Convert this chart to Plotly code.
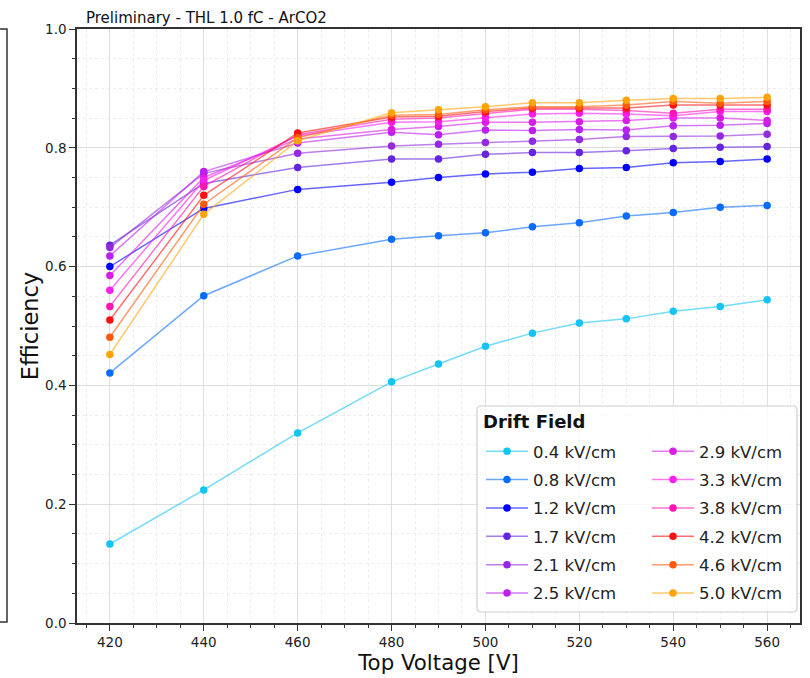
import plotly.graph_objects as go

# ---------------- data ----------------
top_voltage = [420, 440, 460, 480, 490, 500, 510, 520, 530, 540, 550, 560]

drift_labels = ["0.4 kV/cm", "0.8 kV/cm", "1.2 kV/cm", "1.7 kV/cm", "2.1 kV/cm", "2.5 kV/cm",
                "2.9 kV/cm", "3.3 kV/cm", "3.8 kV/cm", "4.2 kV/cm", "4.6 kV/cm", "5.0 kV/cm"]

eff_04 = [0.133, 0.224, 0.320, 0.406, 0.436, 0.466, 0.488, 0.505, 0.512, 0.525, 0.533, 0.544]
eff_08 = [0.421, 0.551, 0.618, 0.646, 0.652, 0.657, 0.667, 0.674, 0.685, 0.691, 0.700, 0.703]
eff_12 = [0.600, 0.698, 0.730, 0.742, 0.750, 0.756, 0.759, 0.765, 0.767, 0.775, 0.777, 0.781]
eff_17 = [0.636, 0.740, 0.767, 0.781, 0.781, 0.789, 0.792, 0.792, 0.795, 0.799, 0.801, 0.802]
eff_21 = [0.632, 0.757, 0.791, 0.803, 0.806, 0.809, 0.811, 0.814, 0.819, 0.819, 0.820, 0.823]
eff_25 = [0.618, 0.760, 0.808, 0.826, 0.822, 0.830, 0.829, 0.831, 0.830, 0.837, 0.838, 0.841]
eff_29 = [0.585, 0.750, 0.815, 0.831, 0.836, 0.843, 0.843, 0.844, 0.846, 0.850, 0.850, 0.846]
eff_33 = [0.560, 0.745, 0.820, 0.843, 0.844, 0.851, 0.857, 0.858, 0.857, 0.854, 0.861, 0.861]
eff_38 = [0.533, 0.735, 0.822, 0.848, 0.850, 0.858, 0.865, 0.865, 0.863, 0.858, 0.865, 0.865]
eff_42 = [0.510, 0.720, 0.825, 0.852, 0.853, 0.861, 0.867, 0.867, 0.867, 0.872, 0.872, 0.872]
eff_46 = [0.481, 0.705, 0.817, 0.855, 0.856, 0.864, 0.869, 0.869, 0.872, 0.878, 0.875, 0.878]
eff_50 = [0.452, 0.688, 0.812, 0.859, 0.864, 0.869, 0.876, 0.876, 0.880, 0.883, 0.883, 0.885]

all_eff = [eff_04, eff_08, eff_12, eff_17, eff_21, eff_25,
           eff_29, eff_33, eff_38, eff_42, eff_46, eff_50]

colors = ["#14c4f5", "#0a6cff", "#0000ff", "#6424e0", "#932ae0", "#bb1ff2",
          "#d91ce6", "#fa1ef0", "#ff14b4", "#ff1010", "#ff5a0a", "#ffa30a"]


def rgba(hexc, a):
    h = hexc.lstrip("#")
    r, g, b = int(h[0:2], 16), int(h[2:4], 16), int(h[4:6], 16)
    return f"rgba({r},{g},{b},{a})"


FONT = "DejaVu Sans"
W, H = 810, 678
ML, MR, MT, MB = 77, 10, 29, 55
PW, PH = W - ML - MR, H - MT - MB


def px(xp):
    return (xp - ML) / PW


def py(yp):
    return (H - MB - yp) / PH


fig = go.Figure()
for i, (lab, ys, c) in enumerate(zip(drift_labels, all_eff, colors)):
    fig.add_trace(go.Scatter(
        x=top_voltage, y=ys, name=lab, mode="lines+markers",
        line=dict(color=rgba(c, 0.6), width=1.5),
        marker=dict(color=c, size=7.5),
        legend="legend" if i < 6 else "legend2",
        legendgroup=lab,
    ))

axis_common = dict(
    showline=True, linecolor="#333333", linewidth=1.5, mirror=True,
    ticks="outside", ticklen=6, tickwidth=1.2, tickcolor="#333333",
    showgrid=True, gridcolor="#dedede", gridwidth=1.2,
    zeroline=False, automargin=False,
    tickfont=dict(family=FONT, size=13.5, color="#222222"),
)

fig.update_xaxes(
    **axis_common, range=[413, 567], tick0=0, dtick=20,
    minor=dict(dtick=5, ticklen=3, tickcolor="#333333", showgrid=True,
               gridcolor="#ececec", griddash="dot", gridwidth=1, ticks="outside"),
    title=dict(text="Top Voltage [V]", font=dict(family=FONT, size=21.3, color="#111111"), standoff=6),
)
fig.update_yaxes(
    **axis_common, range=[0, 1], tick0=0, dtick=0.2, tickformat=".1f",
    minor=dict(dtick=0.05, ticklen=3, tickcolor="#333333", showgrid=True,
               gridcolor="#ececec", griddash="dot", gridwidth=1, ticks="outside"),
    title=dict(text="Efficiency", font=dict(family=FONT, size=22.5, color="#111111"), standoff=0),
)

leg_font = dict(family=FONT, size=16.5, color="#222222")
leg_common = dict(
    xanchor="left", yanchor="top", y=py(434),
    bgcolor="rgba(0,0,0,0)", borderwidth=0, itemwidth=42,
    font=leg_font, traceorder="grouped", tracegroupgap=3.9,
)
fig.update_layout(
    width=W, height=H,
    margin=dict(l=ML, r=MR, t=MT, b=MB, autoexpand=False),
    plot_bgcolor="white", paper_bgcolor="white",
    font=dict(family=FONT),
    legend=dict(x=px(481), **leg_common),
    legend2=dict(x=px(647), **leg_common),
    annotations=[
        dict(text="Preliminary - THL 1.0 fC - ArCO2", xref="paper", yref="paper",
             x=px(84), y=1.0, xanchor="left", yanchor="bottom", showarrow=False,
             font=dict(family=FONT, size=15, color="#111111")),
        dict(text="<b>Drift Field</b>", xref="paper", yref="paper",
             x=px(481), y=py(421), xanchor="left", yanchor="middle", showarrow=False,
             font=dict(family=FONT, size=18, color="#111111")),
    ],
    shapes=[
        # legend frame
        dict(type="path", xref="paper", yref="paper", layer="above",
             path=(f"M{px(481)},{py(406)} L{px(793)},{py(406)} "
                   f"Q{px(797)},{py(406)} {px(797)},{py(410)} "
                   f"L{px(797)},{py(608)} Q{px(797)},{py(612)} {px(793)},{py(612)} "
                   f"L{px(481)},{py(612)} Q{px(477)},{py(612)} {px(477)},{py(608)} "
                   f"L{px(477)},{py(410)} Q{px(477)},{py(406)} {px(481)},{py(406)} Z"),
             fillcolor="rgba(255,255,255,0.82)", line=dict(color="#cfcfcf", width=1.2)),
        # edge of the neighbouring panel on the left
        dict(type="path", xref="paper", yref="paper", layer="above",
             path=f"M{px(0)},{py(29)} L{px(7)},{py(29)} L{px(7)},{py(622)} L{px(0)},{py(622)}",
             line=dict(color="#333333", width=1.5)),
    ],
)

fig.write_html("out.html")
